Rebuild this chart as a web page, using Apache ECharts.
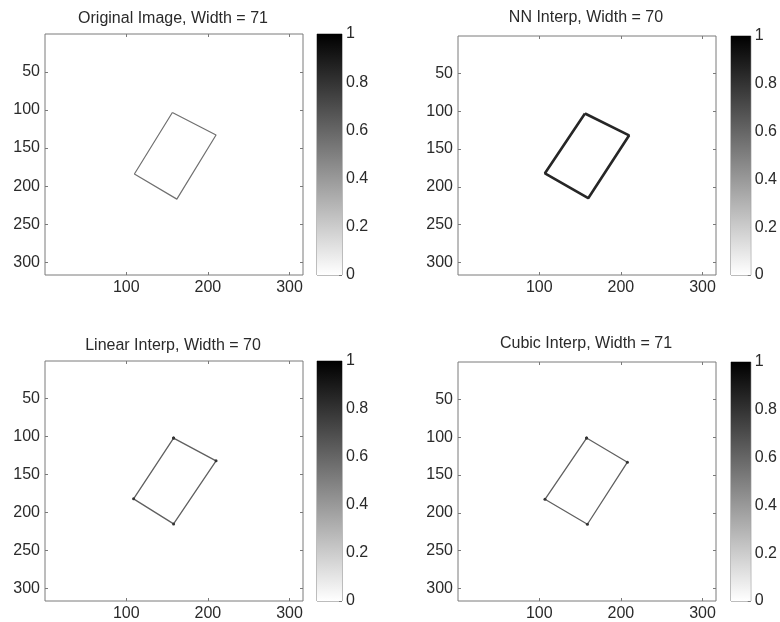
<!DOCTYPE html>
<html>
<head>
<meta charset="utf-8">
<script src="https://cdn.jsdelivr.net/npm/echarts@6/dist/echarts.min.js"></script>
<style>
html,body{margin:0;padding:0;background:#fff;}
#chart{width:780px;height:622px;}
</style>
</head>
<body>
<div id="chart"></div>
<script>
// ---- data ----
const panelTitles = ['Original Image, Width = 71', 'NN Interp, Width = 70', 'Linear Interp, Width = 70', 'Cubic Interp, Width = 71'];
const xTickValues = [100, 200, 300];
const yTickValues = [50, 100, 150, 200, 250, 300];
const colorbarTicks = [0, 0.2, 0.4, 0.6, 0.8, 1];
const imageMin = 0.5;
const imageMax = 316.5;

// rectangle outline vertices (column x, row y), closed
const originalX = [156.5, 210, 162, 110, 156.5];
const originalY = [103.5, 133, 217, 184, 103.5];
const nnX = [156, 210, 160, 107, 156];
const nnY = [103, 132, 215, 182, 103];
const linearX = [158, 210, 158, 109, 158];
const linearY = [102, 132, 215, 182, 102];
const cubicX = [158, 208, 159, 107, 158];
const cubicY = [101, 133, 215, 182, 101];

const colorbarValue = [1];

// ---- layout / style ----
const FONT = "'Liberation Sans', Arial, sans-serif";
const FS = 16;
const TXT = '#2a2a2a';
const FRAME = '#7a7a7a';

const panels = [
  {left: 45, top: 34, width: 258, height: 241, cbLeft: 317, cbWidth: 25, titleX: 173, titleY: 19},
  {left: 458, top: 36, width: 258, height: 239, cbLeft: 731, cbWidth: 23, titleX: 586, titleY: 18},
  {left: 45, top: 361, width: 258, height: 240, cbLeft: 317, cbWidth: 25, titleX: 173, titleY: 346},
  {left: 458, top: 362, width: 258, height: 239, cbLeft: 731, cbWidth: 23, titleX: 586, titleY: 344}
];
const shapes = [
  {x: originalX, y: originalY, color: '#707070', width: 1.2, sym: 'none'},
  {x: nnX, y: nnY, color: '#262626', width: 2.6, sym: 'none'},
  {x: linearX, y: linearY, color: '#606060', width: 1.3, sym: 'circle'},
  {x: cubicX, y: cubicY, color: '#606060', width: 1.3, sym: 'circle'}
];

const grid = [], xAxis = [], yAxis = [], series = [], graphic = [];

panels.forEach((p, i) => {
  grid.push({left: p.left, top: p.top, width: p.width, height: p.height,
    show: true, borderColor: FRAME, borderWidth: 1, backgroundColor: '#fff'});
});
panels.forEach((p, i) => {
  grid.push({left: p.cbLeft, top: p.top, width: p.cbWidth, height: p.height,
    show: true, borderColor: FRAME, borderWidth: 1, backgroundColor: '#fff'});
});

const tickStyle = {show: true, inside: true, length: 3, lineStyle: {color: FRAME, width: 1}};

panels.forEach((p, i) => {
  xAxis.push({type: 'value', gridIndex: i, position: 'bottom', min: imageMin, max: imageMax,
    splitLine: {show: false}, axisLine: {show: false},
    axisTick: Object.assign({customValues: xTickValues}, tickStyle),
    axisLabel: {customValues: xTickValues, color: TXT, fontFamily: FONT, fontSize: FS, margin: 5}});
  xAxis.push({type: 'value', gridIndex: i, position: 'top', min: imageMin, max: imageMax,
    splitLine: {show: false}, axisLine: {show: false},
    axisTick: Object.assign({customValues: xTickValues}, tickStyle),
    axisLabel: {show: false}});
  yAxis.push({type: 'value', gridIndex: i, position: 'left', inverse: true, min: imageMin, max: imageMax,
    splitLine: {show: false}, axisLine: {show: false},
    axisTick: Object.assign({customValues: yTickValues}, tickStyle),
    axisLabel: {customValues: yTickValues, color: TXT, fontFamily: FONT, fontSize: FS, margin: 5}});
  yAxis.push({type: 'value', gridIndex: i, position: 'right', inverse: true, min: imageMin, max: imageMax,
    splitLine: {show: false}, axisLine: {show: false},
    axisTick: Object.assign({customValues: yTickValues}, tickStyle),
    axisLabel: {show: false}});
});

panels.forEach((p, i) => {
  xAxis.push({type: 'category', gridIndex: 4 + i, data: ['c'], show: false, boundaryGap: true});
  yAxis.push({type: 'value', gridIndex: 4 + i, position: 'right', min: 0, max: 1, interval: 0.2,
    splitLine: {show: false}, axisLine: {show: false},
    axisTick: {show: true, inside: true, length: 3, customValues: colorbarTicks, lineStyle: {color: FRAME}},
    axisLabel: {customValues: colorbarTicks, color: TXT, fontFamily: FONT, fontSize: FS, margin: 4}});
});

shapes.forEach((s, i) => {
  series.push({
    type: 'line', xAxisIndex: 2 * i, yAxisIndex: 2 * i,
    data: s.x.map((v, k) => [v, s.y[k]]),
    symbol: s.sym, symbolSize: 3, showSymbol: s.sym !== 'none',
    itemStyle: {color: '#333'},
    lineStyle: {color: s.color, width: s.width},
    silent: true, animation: false, clip: true
  });
});

panels.forEach((p, i) => {
  series.push({
    type: 'bar', xAxisIndex: 8 + i, yAxisIndex: 8 + i,
    data: colorbarValue, barWidth: '100%', silent: true, animation: false,
    itemStyle: {color: {type: 'linear', x: 0, y: 0, x2: 0, y2: 1,
      colorStops: [{offset: 0, color: '#000'}, {offset: 1, color: '#fff'}]}}
  });
  graphic.push({type: 'text', x: p.titleX, y: p.titleY, silent: true,
    style: {text: panelTitles[i], fill: TXT, font: FS + 'px ' + FONT, align: 'center', verticalAlign: 'middle'}});
});

const chart = echarts.init(document.getElementById('chart'), null, {renderer: 'canvas'});
chart.setOption({backgroundColor: '#fff', animation: false, grid, xAxis, yAxis, series, graphic});
</script>
</body>
</html>
